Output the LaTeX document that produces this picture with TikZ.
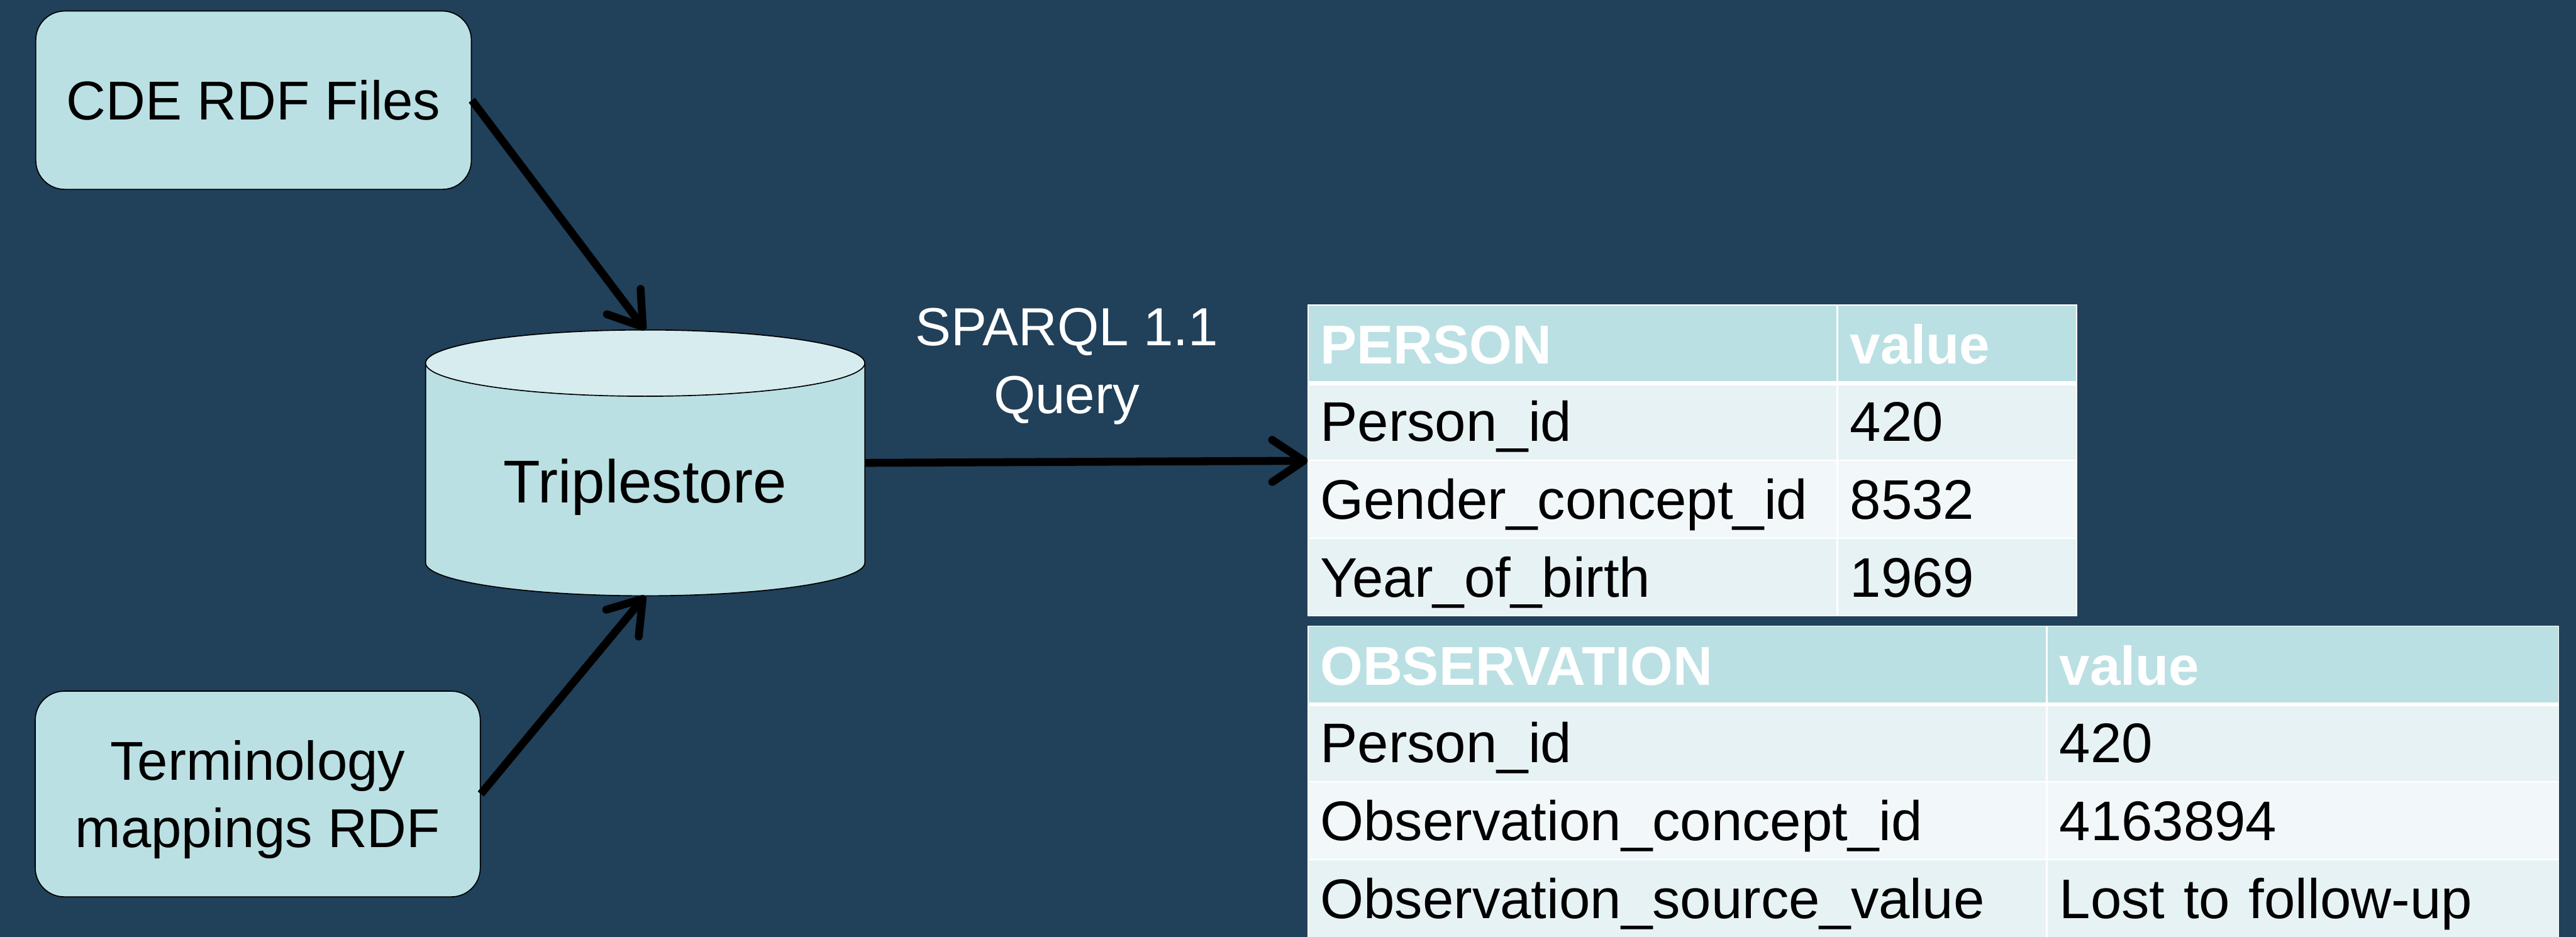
\documentclass[tikz,border=0pt]{standalone}
\usepackage{fontspec}
\setmainfont{Liberation Sans}
\usetikzlibrary{arrows.meta,calc,positioning}
\definecolor{Slate}{HTML}{21405A}
\definecolor{Aqua}{HTML}{BAE0E3}
\definecolor{AquaTop}{HTML}{D7ECEE}
\definecolor{RowA}{HTML}{E7F2F4}
\definecolor{RowB}{HTML}{F2F8FA}

\begin{document}
\begin{tikzpicture}[
  srcbox/.style={draw=black,line width=0.02cm,fill=Aqua,rounded corners=0.55cm,
    align=center,text depth=0pt,inner sep=0pt,
    font=\fontsize{29.6}{36.4}\selectfont},
  flow/.style={line width=0.15cm,-{Straight Barb[length=0.6cm,width=0.8cm,round]}},
  cell/.style={anchor=north west,draw=white,line width=0.02cm,minimum height=1.48cm,
    inner xsep=0.23cm,inner ysep=0pt,text height=0.76cm,text depth=0pt,align=left,
    font=\fontsize{30.2}{36}\selectfont},
  headcell/.style={cell,fill=Aqua,text=white,
    font=\fontsize{29.6}{36}\selectfont\bfseries},
  cylline/.style={draw=black,line width=0.02cm}]
\useasboundingbox (0,0) rectangle (48.97,-17.81);
\fill[Slate] (0,0) rectangle (48.97,-17.81);

% Sources and the store.
\node[srcbox,minimum width=8.28cm,minimum height=3.39cm] (cde) at (4.82,-1.905)
  {CDE RDF Files};
\node[srcbox,minimum width=8.46cm,minimum height=3.91cm] (term) at (4.90,-15.095)
  {Terminology\\mappings RDF};

\node[minimum width=8.35cm,minimum height=5.04cm,inner sep=0pt] (store) at (12.265,-8.80) {};
\coordinate (stop) at ($(store.north)+(0,-0.63)$);
\coordinate (sbot) at ($(store.south)+(0,0.63)$);
\draw[cylline,fill=Aqua] ($(stop)+(-4.175,0)$) -- ($(sbot)+(-4.175,0)$)
  arc[start angle=180,end angle=360,x radius=4.175cm,y radius=0.63cm]
  -- ($(stop)+(4.175,0)$) -- cycle;
\draw[cylline,fill=AquaTop] (stop) ellipse[x radius=4.175cm,y radius=0.63cm];
\node[anchor=base,font=\fontsize{32.7}{38}\selectfont] (storetext) at (12.26,-9.56)
  {Triplestore};

\draw[flow] (cde.east) -- (store.north);
\draw[flow] (term.east) -- (store.south);

\node[text=white,align=center,text depth=0pt,inner sep=0pt,
  font=\fontsize{29}{36.7}\selectfont] (query) at (20.28,-6.86) {SPARQL 1.1\\Query};

% PERSON table
\node[headcell,text width=9.59cm] (ph1) at (24.86,-5.79) {PERSON};
\node[headcell,text width=4.08cm] (ph2) at (ph1.north east) {value};
\foreach \n/\y/\k/\v/\rc in {1/-7.26/Person\_id/420/RowA,
    2/-8.74/Gender\_concept\_id/8532/RowB,
    3/-10.22/Year\_of\_birth/1969/RowA} {
  \node[cell,fill=\rc,text width=9.59cm] (pk\n) at (24.86,\y) {\k};
  \node[cell,fill=\rc,text width=4.08cm] (pv\n) at (pk\n.north east) {\v};
}
\draw[white,line width=0.08cm] (ph1.south west) -- (ph2.south east);

% OBSERVATION table
\node[headcell,text width=13.57cm] (oh1) at (24.86,-11.89) {OBSERVATION};
\node[headcell,text width=9.26cm] (oh2) at (oh1.north east) {value};
\foreach \n/\y/\k/\v/\rc in {1/-13.37/Person\_id/420/RowA,
    2/-14.85/Observation\_concept\_id/4163894/RowB,
    3/-16.33/Observation\_source\_value/Lost to follow-up/RowA} {
  \node[cell,fill=\rc,text width=13.57cm] (ok\n) at (24.86,\y) {\k};
  \node[cell,fill=\rc,text width=9.26cm] (ov\n) at (ok\n.north east) {\v};
}
\draw[white,line width=0.08cm] (oh1.south west) -- (oh2.south east);

\draw[flow] (store.east) -- (pk1.south west);
\end{tikzpicture}
\end{document}
